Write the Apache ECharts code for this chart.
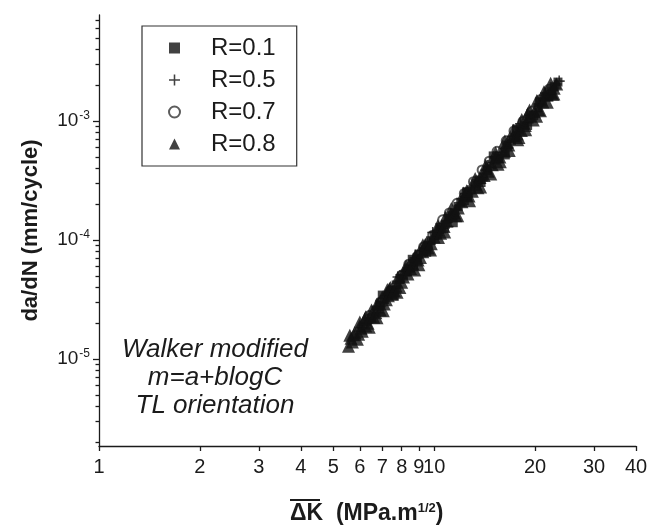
<!DOCTYPE html>
<html><head><meta charset="utf-8">
<script src="https://cdn.jsdelivr.net/npm/echarts@6/dist/echarts.min.js"></script>
<style>html,body{margin:0;padding:0;background:#fff}#c{width:652px;height:529px}</style>
</head><body><div id="c"></div>
<script>
// ---- data (ΔK in MPa·m^1/2, da/dN in mm/cycle) ----
const seriesNames = ['R=0.1', 'R=0.5', 'R=0.7', 'R=0.8'];
const r01 = [[6.3,2.08e-5],[6.5,2.2e-5],[6.7,2.58e-5],[6.9,2.85e-5],[7.0,3.45e-5],[7.1,3.16e-5],[7.3,3.45e-5],[7.5,3.75e-5],[7.6,3.4e-5],[7.7,4.2e-5],[7.9,4.76e-5],[8.1,5.1e-5],[8.3,5.43e-5],[8.5,5.8e-5],[8.6,6.9e-5],[8.7,6.62e-5],[8.9,7.1e-5],[9.0,7.64e-5],[9.3,8.0e-5],[9.5,7.9e-5],[9.6,9.0e-5],[9.8,9.9e-5],[10.0,1.09e-4],[10.2,1.12e-4],[10.4,1.28e-4],[10.5,1.24e-4],[10.8,1.36e-4],[11.0,1.52e-4],[11.3,1.6e-4],[11.4,1.4e-4],[11.5,1.69e-4],[11.8,1.92e-4],[12.0,2.08e-4],[12.3,2.15e-4],[12.5,2.55e-4],[12.6,2.3e-4],[12.9,2.65e-4],[13.3,3.01e-4],[13.6,3.2e-4],[13.8,3.05e-4],[14.0,3.4e-4],[14.4,3.85e-4],[14.8,4.33e-4],[15.0,5.1e-4],[15.2,4.7e-4],[15.6,4.86e-4],[16.0,5.5e-4],[16.3,5.2e-4],[16.5,6.29e-4],[17.0,6.9e-4],[17.5,7.28e-4],[17.6,8.6e-4],[18.0,8.4e-4],[18.6,9.3e-4],[19.0,9.2e-4],[19.2,1.04e-3],[19.8,1.11e-3],[20.4,1.3e-3],[20.6,1.45e-3],[21.0,1.45e-3],[21.6,1.6e-3],[22.0,1.6e-3],[22.3,1.8e-3],[22.8,1.95e-3],[23.4,2.13e-3]];
const r05 = [[6.1,1.83e-5],[6.3,2.0e-5],[6.6,2.42e-5],[6.8,2.45e-5],[6.9,2.75e-5],[7.3,3.58e-5],[7.5,3.7e-5],[7.7,4.08e-5],[7.8,4.9e-5],[7.9,4.5e-5],[8.1,5.08e-5],[8.4,5.5e-5],[8.6,6.1e-5],[8.8,6.6e-5],[8.9,6.3e-5],[9.2,8.14e-5],[9.4,8.0e-5],[9.7,9.52e-5],[9.9,1.16e-4],[10.0,1.02e-4],[10.3,1.14e-4],[10.6,1.25e-4],[10.9,1.43e-4],[11.0,1.3e-4],[11.3,1.6e-4],[11.6,1.82e-4],[11.9,1.95e-4],[12.2,2.13e-4],[12.4,2.45e-4],[12.6,2.4e-4],[12.9,2.74e-4],[13.2,2.85e-4],[13.5,3.1e-4],[13.7,3.0e-4],[13.9,3.35e-4],[14.3,3.89e-4],[14.7,4.1e-4],[15.0,4.51e-4],[15.2,5.0e-4],[15.5,4.95e-4],[15.9,5.48e-4],[16.3,5.9e-4],[16.6,6.0e-4],[16.8,6.65e-4],[17.3,7.5e-4],[17.8,8.1e-4],[18.1,9.5e-4],[18.3,8.9e-4],[18.9,9.76e-4],[19.5,1.12e-3],[19.7,1.12e-3],[20.1,1.2e-3],[20.7,1.38e-3],[21.3,1.52e-3],[21.5,1.72e-3],[21.9,1.68e-3],[22.5,1.8e-3],[23.0,1.9e-3],[23.1,2.05e-3],[23.6,2.17e-3]];
const r07 = [[6.4,2.32e-5],[6.9,3.0e-5],[7.4,3.75e-5],[8.0,5.08e-5],[8.4,6.28e-5],[8.9,7.3e-5],[9.3,8.75e-5],[9.9,1.1e-4],[10.6,1.48e-4],[11.1,1.69e-4],[11.7,2.04e-4],[12.3,2.47e-4],[13.1,3.1e-4],[13.9,3.89e-4],[14.6,4.6e-4],[15.4,5.57e-4],[16.4,6.83e-4],[17.3,8.27e-4],[18.4,9.93e-4],[19.5,1.2e-3],[20.8,1.52e-3],[22.0,1.85e-3]];
const r08 = [[5.55,1.28e-5],[5.6,1.59e-5],[5.65,1.5e-5],[5.7,1.39e-5],[5.75,1.6e-5],[5.8,1.67e-5],[5.9,1.47e-5],[5.95,1.62e-5],[6.0,1.91e-5],[6.0,2.05e-5],[6.05,1.82e-5],[6.1,1.71e-5],[6.2,2.16e-5],[6.25,1.9e-5],[6.25,2.27e-5],[6.35,2.0e-5],[6.4,1.85e-5],[6.45,2.3e-5],[6.5,2.58e-5],[6.6,2.25e-5],[6.7,2.45e-5],[6.75,2.9e-5],[6.75,2.23e-5],[6.8,2.91e-5],[6.9,2.58e-5],[7.0,3.32e-5],[7.05,2.55e-5],[7.1,2.9e-5],[7.2,3.16e-5],[7.25,3.84e-5],[7.3,3.4e-5],[7.35,3.9e-5],[7.4,3.99e-5],[7.5,3.5e-5],[7.6,3.75e-5],[7.7,4.1e-5],[7.75,3.64e-5],[7.8,4.84e-5],[7.9,4.0e-5],[8.0,4.42e-5],[8.1,4.9e-5],[8.2,5.68e-5],[8.25,6.1e-5],[8.35,5.2e-5],[8.4,6.2e-5],[8.5,5.76e-5],[8.65,6.3e-5],[8.75,5.62e-5],[8.8,7.39e-5],[8.95,6.8e-5],[9.0,6.2e-5],[9.1,7.14e-5],[9.25,8.0e-5],[9.25,9.15e-5],[9.4,9.17e-5],[9.5,9.6e-5],[9.6,8.6e-5],[9.75,8.25e-5],[9.8,9.34e-5],[10.0,1.06e-4],[10.2,1.22e-4],[10.25,1.32e-4],[10.3,1.05e-4],[10.45,1.14e-4],[10.7,1.3e-4],[10.75,1.17e-4],[10.8,1.55e-4],[10.9,1.45e-4],[11.2,1.65e-4],[11.25,1.84e-4],[11.5,1.7e-4],[11.6,1.6e-4],[11.75,1.6e-4],[11.8,1.86e-4],[12.1,2.1e-4],[12.25,2.49e-4],[12.4,2.43e-4],[12.5,2.6e-4],[12.7,2.35e-4],[12.75,2.14e-4],[13.0,2.57e-4],[13.25,3.29e-4],[13.3,2.95e-4],[13.5,2.75e-4],[13.7,3.36e-4],[13.75,2.8e-4],[14.1,3.5e-4],[14.25,4.26e-4],[14.3,4.1e-4],[14.5,3.8e-4],[14.75,3.6e-4],[14.9,4.3e-4],[15.25,5.43e-4],[15.3,5.03e-4],[15.5,4.35e-4],[15.7,5.0e-4],[15.75,4.55e-4],[16.2,5.57e-4],[16.25,6.8e-4],[16.5,6.6e-4],[16.7,6.3e-4],[16.75,5.67e-4],[17.2,7.55e-4],[17.25,8.4e-4],[17.7,7.8e-4],[17.75,6.97e-4],[17.9,7.3e-4],[18.2,8.36e-4],[18.25,1.03e-3],[18.7,9.2e-4],[18.75,8.46e-4],[19.0,1.15e-3],[19.25,1.24e-3],[19.3,1.11e-3],[19.75,1.02e-3],[19.9,1.2e-3],[20.2,1.1e-3],[20.25,1.49e-3],[20.5,1.25e-3],[20.75,1.22e-3],[21.1,1.45e-3],[21.25,1.77e-3],[21.4,1.7e-3],[21.7,1.66e-3],[21.75,1.44e-3],[22.25,2.08e-3],[22.3,1.75e-3],[22.6,1.68e-3],[22.75,1.69e-3],[22.8,1.89e-3],[23.2,2.05e-3]];

const xTickValues = [1,2,3,4,5,6,7,8,9,10,20,30,40];
const yMajorTicks = [1e-5, 1e-4, 1e-3];
const yMinorTicks = [2e-6,3e-6,4e-6,5e-6,6e-6,7e-6,8e-6,9e-6,2e-5,3e-5,4e-5,5e-5,6e-5,7e-5,8e-5,9e-5,2e-4,3e-4,4e-4,5e-4,6e-4,7e-4,8e-4,9e-4,2e-3,3e-3,4e-3,5e-3,6e-3,7e-3];
const xRange = [1, 40];
const yRange = [1.86e-6, 7.8e-3];
const noteLines = ['Walker modified', 'm=a+blogC', 'TL orientation'];

// ---- chart ----
const FONT = '"Liberation Sans", Arial, sans-serif';
const INK = '#1b1b1b';
const MARK = '#111';
const plusPath = 'path://M4.3,0H5.7V4.3H10V5.7H5.7V10H4.3V5.7H0V4.3H4.3Z';
const chart = echarts.init(document.getElementById('c'), null, {renderer: 'canvas'});

function yLabel(v) {
  const e = Math.round(Math.log10(v));
  return '{b|10}{s|' + e + '}';
}
const axisLineStyle = {color: INK, width: 1.3};

chart.setOption({
  animation: false,
  backgroundColor: '#fff',
  textStyle: {fontFamily: FONT},
  grid: {left: 99, right: 16, top: 15, bottom: 83, outerBoundsMode: 'none', containLabel: false},
  xAxis: {
    type: 'log', min: xRange[0], max: xRange[1], logBase: 10,
    axisLine: {show: true, lineStyle: axisLineStyle},
    axisTick: {show: true, customValues: xTickValues, length: 5, lineStyle: axisLineStyle},
    minorTick: {show: false},
    splitLine: {show: false},
    axisLabel: {customValues: xTickValues, margin: 11, fontSize: 20, color: INK, fontFamily: FONT}
  },
  yAxis: [{
    type: 'log', min: yRange[0], max: yRange[1], logBase: 10,
    axisLine: {show: true, lineStyle: axisLineStyle},
    axisTick: {show: true, customValues: yMajorTicks, length: 6, lineStyle: axisLineStyle},
    splitLine: {show: false},
    axisLabel: {customValues: yMajorTicks, margin: 9, formatter: yLabel,
      rich: {b: {fontSize: 19, color: INK, fontFamily: FONT}, s: {fontSize: 12, color: INK, fontFamily: FONT, padding: [0, 0, 10, 1]}}},
    name: 'da/dN (mm/cycle)', nameLocation: 'middle', nameGap: 57, nameRotate: 90,
    nameTextStyle: {fontSize: 22, fontWeight: 'bold', color: INK, fontFamily: FONT}
  }, {
    type: 'log', min: yRange[0], max: yRange[1], logBase: 10, position: 'left',
    axisLine: {show: false},
    axisTick: {show: true, customValues: yMinorTicks, length: 3.5, lineStyle: axisLineStyle},
    splitLine: {show: false},
    axisLabel: {show: false}
  }],
  legend: {
    orient: 'vertical', left: 142, top: 26,
    data: [
      {name: 'R=0.1', icon: 'rect'},
      {name: 'R=0.5', icon: plusPath},
      {name: 'R=0.7', icon: 'emptyCircle'},
      {name: 'R=0.8', icon: 'triangle'}
    ],
    itemWidth: 11, itemHeight: 11, itemGap: 8,
    padding: [10, 21, 10, 26],
    borderColor: '#333', borderWidth: 1.2,
    selectedMode: false,
    textStyle: {fontSize: 24, lineHeight: 24, color: INK, fontFamily: FONT, padding: [0, 0, 0, 26]}
  },
  graphic: [
    {type: 'group', silent: true, children: noteLines.map((t, i) => ({
      type: 'text', x: 215, y: 350 + i * 28,
      style: {text: t, font: 'italic 26px ' + FONT, fill: INK, align: 'center', verticalAlign: 'middle'}
    }))},
    {type: 'text', silent: true, x: 290, y: 514,
      style: {text: '{b|ΔK  (MPa.m}{s|1/2}{b|)}', align: 'left', verticalAlign: 'middle',
        rich: {b: {font: 'bold 23px ' + FONT, fill: INK}, s: {font: 'bold 13px ' + FONT, fill: INK, padding: [0, 0, 11, 0]}}}},
    {type: 'rect', silent: true, shape: {x: 290, y: 499, width: 30, height: 2}, style: {fill: INK}}
  ],
  series: [
    {name: 'R=0.7', type: 'scatter', data: r07, symbol: 'emptyCircle', symbolSize: 9,
      itemStyle: {color: '#333', borderColor: '#333', borderWidth: 1}, emphasis: {disabled: true}},
    {name: 'R=0.1', type: 'scatter', data: r01, symbol: 'rect', symbolSize: 9,
      itemStyle: {color: MARK}, emphasis: {disabled: true}},
    {name: 'R=0.5', type: 'scatter', data: r05, symbol: plusPath, symbolSize: 11,
      itemStyle: {color: MARK}, emphasis: {disabled: true}},
    {name: 'R=0.8', type: 'scatter', data: r08, symbol: 'triangle', symbolSize: 13,
      itemStyle: {color: MARK}, emphasis: {disabled: true}}
  ]
});
</script></body></html>
